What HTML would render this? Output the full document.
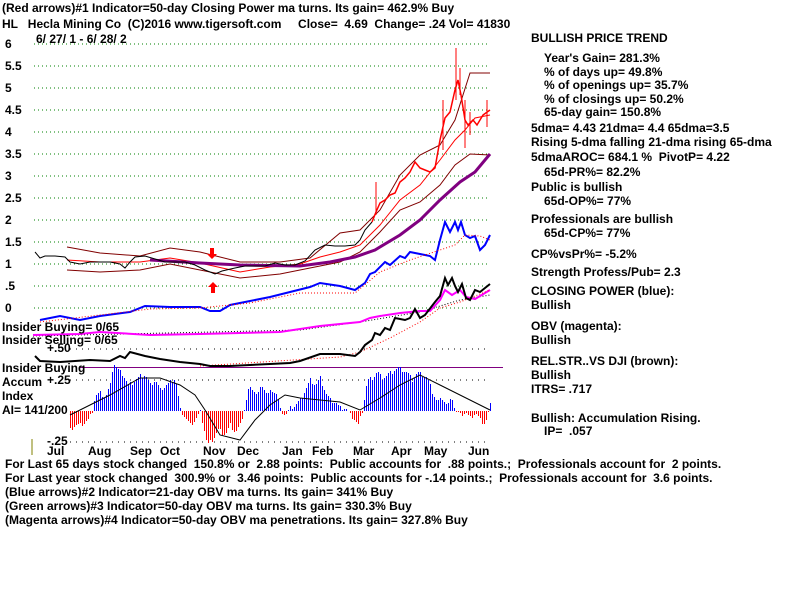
<!DOCTYPE html><html><head><style>
body{margin:0;background:#fff;width:800px;height:600px;overflow:hidden}
svg{display:block}
text{font-family:"Liberation Sans",sans-serif;font-weight:bold;font-size:12px;fill:#000;white-space:pre}
</style></head><body>
<svg id="s" width="800" height="600" viewBox="0 0 800 600" xmlns="http://www.w3.org/2000/svg" xml:space="preserve">
<text x="2" y="12">(Red arrows)#1 Indicator=50-day Closing Power ma turns. Its gain= 462.9% Buy</text>
<text x="2" y="28">HL   Hecla Mining Co  (C)2016 www.tigersoft.com     Close=  4.69  Change= .24 Vol= 41830</text>
<text x="36" y="43">6/ 27/ 1 - 6/ 28/ 2</text>
<g stroke="#008000" stroke-dasharray="1,3" stroke-width="1">
<line x1="34" y1="44" x2="490" y2="44"/><line x1="34" y1="66" x2="490" y2="66"/><line x1="34" y1="88" x2="490" y2="88"/><line x1="34" y1="110" x2="490" y2="110"/><line x1="34" y1="132" x2="490" y2="132"/><line x1="34" y1="154" x2="490" y2="154"/><line x1="34" y1="176" x2="490" y2="176"/><line x1="34" y1="198" x2="490" y2="198"/><line x1="34" y1="220" x2="490" y2="220"/><line x1="34" y1="242" x2="490" y2="242"/><line x1="34" y1="264" x2="490" y2="264"/><line x1="34" y1="286" x2="490" y2="286"/><line x1="34" y1="308" x2="490" y2="308"/>
</g>
<g>
<text x="5" y="48">6</text><text x="5" y="70">5.5</text><text x="5" y="92">5</text><text x="5" y="114">4.5</text><text x="5" y="136">4</text><text x="5" y="158">3.5</text><text x="5" y="180">3</text><text x="5" y="202">2.5</text><text x="5" y="224">2</text><text x="5" y="246">1.5</text><text x="5" y="268">1</text><text x="5" y="290">.5</text><text x="5" y="312">0</text>
</g>
<g fill="none">
<polyline stroke="#800000" points="67,247 100,253 140,256 170,248 200,252 240,262 280,262 310,258 340,233 360,230 380,210 400,175 420,155 440,145 455,120 470,73 490,73"/>
<polyline stroke="#800000" points="67,270 100,272 140,270 170,264 200,270 240,278 280,274 310,268 340,262 360,252 380,232 400,210 420,202 440,185 455,165 470,154 490,155"/>
<polyline stroke="#ff0000" points="67,260 100,262 140,262 170,258 200,263 240,272 270,267 300,264 320,257 340,252 360,245 380,225 400,200 420,185 440,160 455,140 465,130 475,118 490,115"/>
<polyline stroke="#800080" stroke-width="3" points="150,260 200,263 240,265 300,266 330,262 355,257 375,250 400,235 420,220 440,200 460,182 475,172 490,154"/>
<polyline stroke="#000" points="35,252 40,258 45,256 55,256 65,257 70,262 80,264 90,262 100,262 110,262 120,264 125,268 130,262 135,257 145,256 155,259 165,262 175,262 185,262 195,265 205,270 215,274 222,271 235,268 245,266 255,266 265,266 275,263 285,265 295,265 305,261 315,250 325,245 335,246 345,246 355,245 360,240 365,230 372,222"/>
<polyline stroke="#ff0000" stroke-width="1.5" points="372,222 376,212 380,203 385,200 390,195 395,193 400,182 405,178 410,172 415,162 420,168 425,170 430,172 435,168 440,140 445,118 450,112 455,90 458,80 461,95 465,120 468,125 473,120 477,125 483,115 490,110"/>
<g stroke="#ff0000"><line x1="376" y1="182" x2="376" y2="215"/><line x1="443" y1="100" x2="443" y2="150"/><line x1="456" y1="48" x2="456" y2="100"/><line x1="460" y1="68" x2="460" y2="95"/><line x1="465" y1="100" x2="465" y2="148"/><line x1="470" y1="112" x2="470" y2="135"/><line x1="487" y1="100" x2="487" y2="127"/></g>
<polyline stroke="#0000ff" stroke-width="2" points="40,320 60,316 80,320 100,316 130,312 145,306 170,307 200,307 210,311 220,311 230,305 250,301 270,297 290,292 310,287 320,283 340,286 355,290 365,283 370,274 375,272 385,262 390,265 400,256 405,258 410,252 420,254 430,256 435,260 440,240 445,222 450,232 455,222 458,230 461,222 465,235 470,238 475,236 480,250 485,245 490,235"/>
<polyline stroke="#ff0000" stroke-dasharray="1,2" points="40,322 100,315 150,309 200,308 250,303 300,293 355,293 380,272 410,260 440,250 455,245 465,235 480,236 490,240"/>
<polyline stroke="#000" stroke-dasharray="1,2" points="33,336 300,330 360,322 420,312 460,300 490,295"/>
<polyline stroke="#ff00ff" stroke-width="2" points="33,335 80,334 100,332 150,335 200,334 280,332 320,326 360,322 370,318 380,316 400,313 420,311 430,311 440,300 445,290 452,295 460,290 466,297 475,299 485,293 490,290"/>
<polyline stroke="#ff0000" stroke-dasharray="1,2" points="200,366 340,357 360,352 390,338 420,322 440,308 460,302 490,290"/>
<polyline stroke="#000" stroke-width="2" points="35,356 40,361 60,362 90,360 110,361 120,356 125,358 130,352 145,356 160,359 180,362 200,364 210,366 230,366 270,364 290,363 300,361 320,354 340,354 355,356 360,352 365,345 372,340 375,333 380,335 385,328 390,330 395,318 405,320 410,318 415,309 420,318 425,315 435,302 440,296 445,278 448,285 452,278 455,286 458,292 462,284 466,298 470,300 475,290 480,292 485,288 490,284"/>
</g>
<path d="M210,248 h4 v6 h3 l-5,5 l-5,-5 h3z" fill="#ff0000"/>
<path d="M213,282 l5,5 h-3 v6 h-4 v-6 h-3z" fill="#ff0000"/>
<g stroke="#000" stroke-dasharray="1,5"><line x1="70" y1="349" x2="490" y2="349"/><line x1="70" y1="380" x2="490" y2="380"/><line x1="70" y1="442" x2="490" y2="442"/></g>
<line x1="80" y1="367.5" x2="503" y2="367.5" stroke="#800080"/>
<g id="hist" shape-rendering="crispEdges"></g>
<polyline fill="none" stroke="#000" points="70,415 110,395 140,378 160,378 180,385 195,395 205,410 220,435 240,440 255,420 270,405 285,395 300,398 320,400 340,402 360,410 380,398 400,385 420,375 440,385 460,395 480,405 490,410"/>
<text x="2" y="331">Insider Buying= 0/65</text>
<text x="2" y="344">Insider Selling= 0/65</text>
<text x="47" y="352">+.50</text>
<text x="2" y="372">Insider Buying</text>
<text x="2" y="386">Accum</text><text x="47" y="384">+.25</text>
<text x="2" y="400">Index</text>
<text x="2" y="414">AI= 141/200</text>
<text x="47" y="445">-.25</text>
<line x1="32" y1="439" x2="32" y2="455" stroke="#808000"/>
<g><text x="47" y="455">Jul</text><text x="88" y="455">Aug</text><text x="130" y="455">Sep</text><text x="160" y="455">Oct</text><text x="203" y="455">Nov</text><text x="237" y="455">Dec</text><text x="282" y="455">Jan</text><text x="312" y="455">Feb</text><text x="353" y="455">Mar</text><text x="391" y="455">Apr</text><text x="424" y="455">May</text><text x="468" y="455">Jun</text></g>
<g>
<text x="5" y="468">For Last 65 days stock changed  150.8% or  2.88 points:  Public accounts for  .88 points.;  Professionals account for  2 points.</text>
<text x="5" y="482">For Last year stock changed  300.9% or  3.46 points:  Public accounts for -.14 points.;  Professionals account for  3.6 points.</text>
<text x="5" y="496">(Blue arrows)#2 Indicator=21-day OBV ma turns. Its gain= 341% Buy</text>
<text x="5" y="510">(Green arrows)#3 Indicator=50-day OBV ma turns. Its gain= 330.3% Buy</text>
<text x="5" y="524">(Magenta arrows)#4 Indicator=50-day OBV ma penetrations. Its gain= 327.8% Buy</text>
</g>
<g>
<text x="531" y="42">BULLISH PRICE TREND</text>
<text x="544" y="62">Year's Gain= 281.3%</text>
<text x="544" y="76">% of days up= 49.8%</text>
<text x="544" y="89">% of openings up= 35.7%</text>
<text x="544" y="103">% of closings up= 50.2%</text>
<text x="544" y="116">65-day gain= 150.8%</text>
<text x="531" y="132">5dma= 4.43 21dma= 4.4 65dma=3.5</text>
<text x="531" y="146">Rising 5-dma falling 21-dma rising 65-dma</text>
<text x="531" y="161">5dmaAROC= 684.1 %  PivotP= 4.22</text>
<text x="544" y="176">65d-PR%= 82.2%</text>
<text x="531" y="191">Public is bullish</text>
<text x="544" y="205">65d-OP%= 77%</text>
<text x="531" y="223">Professionals are bullish</text>
<text x="544" y="237">65d-CP%= 77%</text>
<text x="531" y="258">CP%vsPr%= -5.2%</text>
<text x="531" y="276">Strength Profess/Pub= 2.3</text>
<text x="531" y="295">CLOSING POWER (blue):</text>
<text x="531" y="309">Bullish</text>
<text x="531" y="330">OBV (magenta):</text>
<text x="531" y="344">Bullish</text>
<text x="531" y="365">REL.STR..VS DJI (brown):</text>
<text x="531" y="379">Bullish</text>
<text x="531" y="393">ITRS= .717</text>
<text x="531" y="422">Bullish: Accumulation Rising.</text>
<text x="544" y="435">IP=  .057</text>
</g>
</svg>
<script>
var p=[[70,430],[75,425],[80,425],[88,420],[92,411],[95,395],[100,393],[105,398],[110,385],[113,362],[118,370],[123,375],[128,385],[133,382],[140,376],[145,375],[150,385],[155,380],[160,390],[165,386],[170,382],[175,378],[180,410],[185,418],[190,425],[195,420],[200,412],[203,425],[207,445],[212,440],[218,430],[225,435],[230,425],[235,432],[240,425],[245,405],[248,390],[252,388],[257,395],[262,385],[267,395],[272,390],[277,395],[280,410],[285,415],[290,408],[295,405],[300,400],[305,390],[310,380],[315,385],[320,378],[325,392],[330,400],[335,402],[340,408],[345,408],[350,415],[355,420],[358,425],[362,411],[367,380],[372,378],[377,372],[382,378],[387,375],[392,372],[397,368],[402,370],[407,373],[412,380],[417,372],[422,375],[427,378],[432,392],[437,402],[442,398],[447,405],[452,398],[455,411],[460,415],[465,412],[470,418],[475,413],[480,420],[485,424],[490,405]];
var g=document.getElementById('hist'),h='';
function yAt(x){for(var i=0;i<p.length-1;i++){if(x>=p[i][0]&&x<=p[i+1][0]){var t=(x-p[i][0])/(p[i+1][0]-p[i][0]);return p[i][1]+t*(p[i+1][1]-p[i][1]);}}return 411;}
for(var x=70;x<=490;x+=2){var y=yAt(x)+((x*7)%5-2);var c=y<411?'#0000ff':'#ff0000';h+='<rect x="'+x+'" width="1" y="'+Math.min(y,411).toFixed(0)+'" height="'+Math.abs(411-y).toFixed(0)+'" fill="'+c+'"/>';}
g.innerHTML=h;
</script>
</body></html>
